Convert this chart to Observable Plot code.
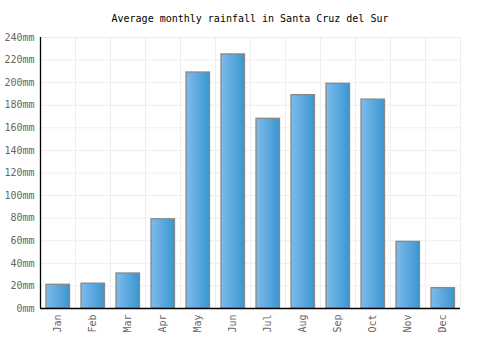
<!DOCTYPE html>
<html>
<head>
<meta charset="utf-8">
<script src="https://cdn.jsdelivr.net/npm/d3@7"></script>
<script src="https://cdn.jsdelivr.net/npm/@observablehq/plot@0.6"></script>
<style>
  html, body { margin: 0; padding: 0; background: #fff; }
  #title { font: 10px "DejaVu Sans Mono", monospace; height: 30px; line-height: 37px; text-align: center; color: #000; width: 500px; }
</style>
</head>
<body>
<div id="title">Average monthly rainfall in Santa Cruz del Sur</div>
<div id="chart"></div>
<script>
const months = ["Jan","Feb","Mar","Apr","May","Jun","Jul","Aug","Sep","Oct","Nov","Dec"];
const rainfall = [21, 22, 31, 79, 209, 225, 168, 189, 199, 185, 59, 18];
const yTicks = [0, 20, 40, 60, 80, 100, 120, 140, 160, 180, 200, 220, 240];

const data = months.map((m, i) => ({month: m, value: rainfall[i]}));

const plot = Plot.plot({
  width: 500,
  height: 320,
  marginTop: 7,
  marginBottom: 42,
  marginLeft: 40,
  marginRight: 40,
  style: {fontFamily: "DejaVu Sans Mono, monospace", fontSize: "10px", background: "#fff", color: "#666"},
  x: {domain: months, padding: 0, label: null, tickSize: 0, tickPadding: 6, tickRotate: -90},
  y: {domain: [0, 240], ticks: yTicks, tickFormat: d => d + "mm", label: null, tickSize: 0, tickPadding: 6},
  marks: [
    Plot.ruleY(yTicks, {stroke: "#eeeeee", strokeWidth: 1}),
    Plot.ruleX(months, {x: d => d, dx: -17.5, stroke: "#eeeeee", strokeWidth: 1}),
    Plot.ruleX([months[months.length - 1]], {x: d => d, dx: 17.5, stroke: "#eeeeee", strokeWidth: 1}),
    Plot.barY(data, {x: "month", y: "value", fill: "url(#barGrad)", stroke: "#888888", strokeWidth: 1.3, insetLeft: 6, insetRight: 5.5}),
    Plot.ruleX([months[0]], {x: d => d, dx: -17.5, stroke: "#000", strokeWidth: 1.3}),
    Plot.ruleY([0], {stroke: "#000", strokeWidth: 1.3})
  ]
});

const ns = "http://www.w3.org/2000/svg";
const defs = document.createElementNS(ns, "defs");
defs.innerHTML = '<linearGradient id="barGrad" x1="0" y1="0" x2="1" y2="0">' +
  '<stop offset="0%" stop-color="#7fbbec"/>' +
  '<stop offset="100%" stop-color="#3996d0"/></linearGradient>';
plot.insertBefore(defs, plot.firstChild);
document.getElementById("chart").appendChild(plot);
</script>
</body>
</html>
